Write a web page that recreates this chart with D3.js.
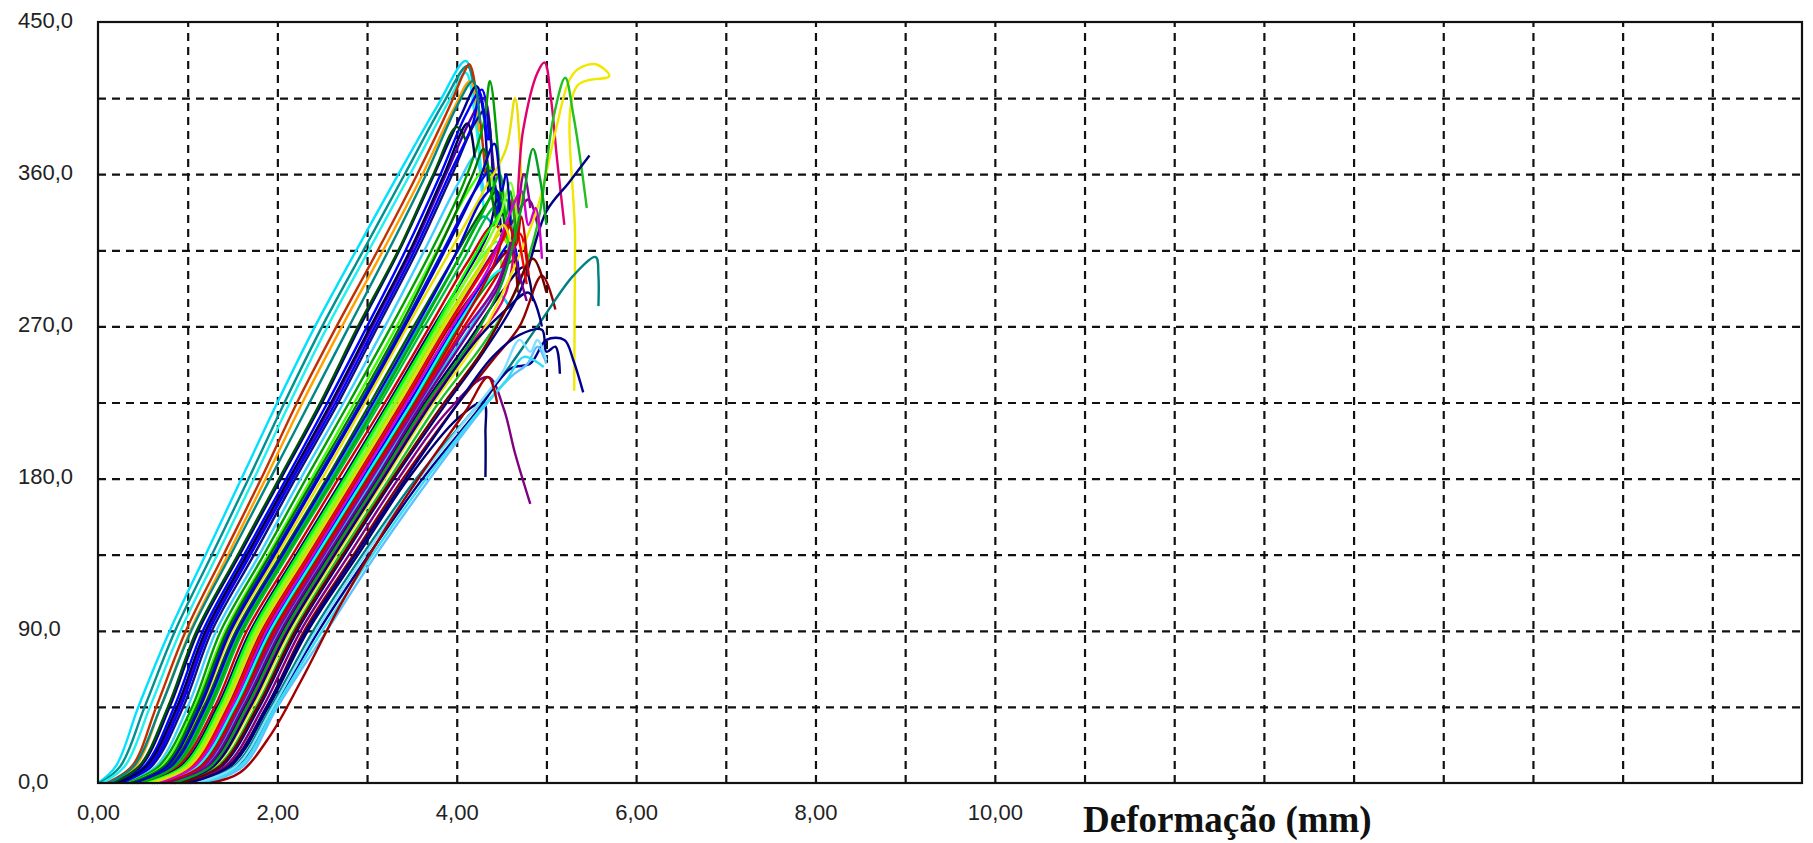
<!DOCTYPE html>
<html lang="pt">
<head>
  <meta charset="UTF-8">
  <title>Carga x Deformação</title>
  <script src="https://cdnjs.cloudflare.com/ajax/libs/d3/7.8.5/d3.min.js"></script>
  <style>
    html, body {
      margin: 0;
      padding: 0;
      background: #fff;
    }

    .grid line {
      stroke: #111;
      stroke-width: 2.2px;
      stroke-dasharray: 8 6;
    }

    .grid path { display: none; }

    .frame {
      fill: none;
      stroke: #111;
      stroke-width: 2.2px;
    }

    .curve {
      fill: none;
      stroke-width: 2.4px;
      stroke-linejoin: round;
    }

    .tick-label text {
      font-family: "Liberation Sans", Arial, sans-serif;
      font-size: 22px;
      fill: #222;
    }

    .x-title {
      font-family: "Liberation Serif", "Times New Roman", serif;
      font-weight: bold;
      font-size: 37px;
      fill: #111;
    }
  </style>
</head>
<body>
  <div id="chart"></div>

  <script>
    // ticks
    const xTickValues = [0, 2, 4, 6, 8, 10];
    const xTickLabels = ['0,00', '2,00', '4,00', '6,00', '8,00', '10,00'];
    const yTickValues = [0, 90, 180, 270, 360, 450];
    const yTickLabels = ['0,0', '90,0', '180,0', '270,0', '360,0', '450,0'];
    const xGrid = [1, 2, 3, 4, 5, 6, 7, 8, 9, 10, 11, 12, 13, 14, 15, 16, 17, 18];
    const yGrid = [45, 90, 135, 180, 225, 270, 315, 360, 405];

    // one array per specimen: [deformação mm, carga]
    const cp01 = [[0,0],[0.2,10],[0.45,45],[0.8,90],[1.2,135],[1.6,180],[2.0,225],[2.42,270],[2.88,315],[3.35,360],[3.78,400],[4.1,427],[4.2,405],[4.28,350]];
    const cp02 = [[0.02,0],[0.25,10],[0.52,45],[0.86,90],[1.27,135],[1.68,180],[2.08,225],[2.5,270],[2.96,315],[3.42,360],[3.85,402],[4.12,424],[4.22,400]];
    const cp03 = [[0.05,0],[0.3,10],[0.58,45],[0.92,90],[1.33,135],[1.74,180],[2.14,225],[2.56,270],[3.02,315],[3.48,360],[3.9,402],[4.1,420],[4.2,395],[4.3,340]];
    const cp04 = [[0.1,0],[0.38,10],[0.65,45],[0.98,90],[1.4,135],[1.82,180],[2.22,225],[2.66,270],[3.12,315],[3.56,360],[3.92,400],[4.08,420],[4.14,425],[4.24,400],[4.32,360]];
    const cp05 = [[0.14,0],[0.42,10],[0.7,45],[1.03,90],[1.45,135],[1.87,180],[2.28,225],[2.72,270],[3.18,315],[3.62,360],[3.96,398],[4.15,415],[4.25,385]];
    const cp06 = [[0.18,0],[0.48,10],[0.8,45],[1.12,90],[1.58,135],[2.04,180],[2.5,225],[2.92,270],[3.36,315],[3.75,360],[4.05,395],[4.22,412],[4.3,395],[4.35,350]];
    const cp07 = [[0.2,0],[0.52,10],[0.85,45],[1.17,90],[1.63,135],[2.1,180],[2.56,225],[3.0,270],[3.43,315],[3.82,360],[4.1,395],[4.28,410],[4.36,380]];
    const cp08 = [[0.24,0],[0.56,10],[0.9,45],[1.22,90],[1.68,135],[2.15,180],[2.62,225],[3.06,270],[3.5,315],[3.88,360],[4.15,392],[4.3,405],[4.4,370],[4.45,330]];
    const cp09 = [[0.28,0],[0.6,10],[0.95,45],[1.27,90],[1.74,135],[2.2,180],[2.68,225],[3.12,270],[3.56,315],[3.95,360],[4.2,390],[4.32,398],[4.4,360]];
    const cp10 = [[0.3,0],[0.65,10],[1.0,45],[1.32,90],[1.8,135],[2.26,180],[2.74,225],[3.2,270],[3.64,315],[4.02,355],[4.2,370],[4.3,350]];
    const cp11 = [[0.32,0],[0.68,10],[1.05,45],[1.37,90],[1.85,135],[2.32,180],[2.8,225],[3.27,270],[3.72,315],[4.08,355],[4.3,390],[4.37,415],[4.45,380],[4.5,340]];
    const cp12 = [[0.35,0],[0.72,10],[1.08,45],[1.42,90],[1.9,135],[2.38,180],[2.86,225],[3.33,270],[3.78,315],[4.15,352],[4.35,365],[4.42,340]];
    const cp13 = [[0.38,0],[0.75,10],[1.12,45],[1.46,90],[1.95,135],[2.44,180],[2.93,225],[3.4,270],[3.85,315],[4.2,350],[4.38,362],[4.46,330]];
    const cp14 = [[0.4,0],[0.78,10],[1.15,45],[1.5,90],[2.0,135],[2.5,180],[2.98,225],[3.45,270],[3.9,312],[4.3,350],[4.55,375],[4.65,405],[4.7,380],[4.72,340]];
    const cp15 = [[0.42,0],[0.8,10],[1.18,45],[1.54,90],[2.04,135],[2.55,180],[3.04,225],[3.52,270],[3.96,310],[4.3,340],[4.45,350],[4.55,320]];
    const cp16 = [[0.45,0],[0.84,10],[1.22,45],[1.58,90],[2.08,135],[2.6,180],[3.1,225],[3.58,270],[4.0,308],[4.3,335],[4.4,330]];
    const cp17 = [[0.48,0],[0.88,10],[1.26,45],[1.62,90],[2.12,135],[2.64,180],[3.15,225],[3.64,270],[4.08,310],[4.4,340],[4.55,345],[4.62,320]];
    const cp18 = [[0.5,0],[0.9,10],[1.3,45],[1.66,90],[2.17,135],[2.68,180],[3.2,225],[3.7,270],[4.12,308],[4.42,330],[4.6,315],[4.7,300]];
    const cp19 = [[0.52,0],[0.93,10],[1.33,45],[1.7,90],[2.21,135],[2.73,180],[3.24,225],[3.74,270],[4.15,305],[4.35,325],[4.45,345],[4.5,320]];
    const cp20 = [[0.55,0],[0.96,10],[1.36,45],[1.74,90],[2.25,135],[2.77,180],[3.28,225],[3.78,270],[4.2,305],[4.45,320],[4.5,300]];
    const cp21 = [[0.58,0],[1.0,10],[1.4,45],[1.78,90],[2.3,135],[2.82,180],[3.33,225],[3.83,270],[4.25,305],[4.5,325],[4.6,310]];
    const cp22 = [[0.6,0],[1.03,10],[1.44,45],[1.82,90],[2.34,135],[2.86,180],[3.38,225],[3.88,270],[4.3,305],[4.6,330],[4.8,345],[4.9,330]];
    const cp23 = [[0.63,0],[1.06,10],[1.47,45],[1.86,90],[2.38,135],[2.9,180],[3.42,225],[3.92,270],[4.34,300],[4.6,315],[4.68,290]];
    const cp24 = [[0.66,0],[1.1,10],[1.5,45],[1.9,90],[2.42,135],[2.95,180],[3.47,225],[3.98,270],[4.4,305],[4.62,320],[4.7,295]];
    const cp25 = [[0.7,0],[1.13,10],[1.54,45],[1.94,90],[2.46,135],[2.99,180],[3.52,225],[4.02,270],[4.42,300],[4.65,310]];
    const cp26 = [[0.74,0],[1.16,10],[1.57,45],[1.98,90],[2.5,135],[3.03,180],[3.56,225],[4.06,268],[4.45,300],[4.7,325],[4.8,300]];
    const cp27 = [[0.78,0],[1.2,10],[1.6,45],[2.02,90],[2.54,135],[3.08,180],[3.6,225],[4.1,265],[4.45,290],[4.6,280]];
    const cp28 = [[0.82,0],[1.24,10],[1.64,45],[2.06,90],[2.58,135],[3.12,180],[3.65,225],[4.14,262],[4.5,290],[4.75,305],[4.85,285]];
    const cp29 = [[0.85,0],[1.27,10],[1.68,45],[2.1,90],[2.62,135],[3.16,180],[3.7,225],[4.2,262],[4.55,290],[4.74,386],[4.9,420],[4.98,426],[5.05,405],[5.12,368],[5.2,330]];
    const cp30 = [[0.88,0],[1.3,10],[1.72,45],[2.14,90],[2.66,135],[3.2,180],[3.74,225],[4.24,262],[4.6,300],[4.9,340],[5.1,385],[5.25,415],[5.35,422],[5.55,425],[5.7,418],[5.34,412],[5.32,320],[5.31,232]];
    const cp31 = [[0.9,0],[1.34,10],[1.76,45],[2.18,90],[2.7,135],[3.25,180],[3.8,225],[4.3,260],[4.65,290],[4.9,330],[5.08,394],[5.21,417],[5.3,395],[5.38,368],[5.45,340]];
    const cp32 = [[0.94,0],[1.38,10],[1.8,45],[2.22,90],[2.75,135],[3.3,180],[3.85,222],[4.3,255],[4.7,290],[5.0,338],[5.25,355],[5.48,371]];
    const cp33 = [[0.97,0],[1.42,10],[1.84,45],[2.26,90],[2.8,135],[3.35,180],[3.9,220],[4.35,240],[4.52,222],[4.65,195],[4.82,165]];
    const cp34 = [[1.0,0],[1.45,10],[1.88,45],[2.3,90],[2.85,135],[3.4,180],[3.95,220],[4.4,250],[4.7,270],[4.95,300],[5.1,280]];
    const cp35 = [[1.03,0],[1.48,10],[1.9,45],[2.34,90],[2.9,135],[3.46,180],[4.0,215],[4.3,225],[4.32,207],[4.32,181]];
    const cp36 = [[1.06,0],[1.52,10],[1.93,45],[2.4,90],[2.95,135],[3.55,180],[4.1,215],[4.5,240],[4.9,270],[5.3,300],[5.55,311],[5.58,300],[5.58,282]];
    const cp37 = [[1.1,0],[1.56,10],[1.96,45],[2.46,90],[3.02,135],[3.62,180],[4.2,218],[4.6,245],[4.82,248],[5.0,262],[5.2,262],[5.3,250],[5.41,231]];
    const cp38 = [[1.22,0],[1.62,10],[2.0,45],[2.55,90],[3.1,135],[3.7,180],[4.3,222],[4.6,240],[4.79,248],[4.9,258],[5.0,248]];
    const cp39 = [[0.36,0],[0.74,10],[1.1,45],[1.44,90],[1.92,135],[2.41,180],[2.9,225],[3.37,270],[3.82,318],[4.18,360],[4.3,375],[4.38,350],[4.45,330]];
    const cp40 = [[0.44,0],[0.82,10],[1.2,45],[1.56,90],[2.06,135],[2.57,180],[3.07,225],[3.55,270],[3.98,312],[4.28,345],[4.42,352],[4.5,335]];
    const cp41 = [[0.54,0],[0.95,10],[1.35,45],[1.72,90],[2.23,135],[2.75,180],[3.26,225],[3.76,270],[4.18,310],[4.4,330],[4.52,338],[4.58,310]];
    const cp42 = [[0.62,0],[1.05,10],[1.46,45],[1.84,90],[2.36,135],[2.88,180],[3.4,225],[3.9,270],[4.32,305],[4.55,325],[4.62,345],[4.7,320],[4.78,295]];
    const cp43 = [[0.68,0],[1.11,10],[1.52,45],[1.92,90],[2.44,135],[2.97,180],[3.5,225],[4.0,270],[4.4,300],[4.55,305]];
    const cp44 = [[0.76,0],[1.18,10],[1.58,45],[2.0,90],[2.52,135],[3.05,180],[3.58,225],[4.08,267],[4.45,295],[4.65,330],[4.75,360],[4.82,340]];
    const cp45 = [[0.26,0],[0.58,10],[0.92,45],[1.24,90],[1.7,135],[2.17,180],[2.65,225],[3.09,270],[3.53,315],[3.92,360],[4.18,390],[4.26,408],[4.34,380]];
    const cp46 = [[0.16,0],[0.46,10],[0.78,45],[1.1,90],[1.56,135],[2.02,180],[2.48,225],[2.9,270],[3.35,315],[3.74,360],[4.0,388],[4.1,380]];
    const cp47 = [[0.86,0],[1.29,10],[1.7,45],[2.12,90],[2.64,135],[3.18,180],[3.72,225],[4.22,262],[4.55,280],[4.8,290],[4.95,270]];
    const cp48 = [[0.92,0],[1.36,10],[1.78,45],[2.2,90],[2.73,135],[3.28,180],[3.82,222],[4.28,255],[4.6,285],[4.85,310],[5.0,290]];
    const cp49 = [[0.46,0],[0.86,10],[1.24,45],[1.6,90],[2.1,135],[2.62,180],[3.12,225],[3.6,270],[4.04,312],[4.36,345],[4.48,360],[4.55,335],[4.6,350],[4.66,320]];
    const cp50 = [[0.72,0],[1.15,10],[1.56,45],[1.96,90],[2.48,135],[3.01,180],[3.54,225],[4.04,270],[4.4,305],[4.58,330],[4.66,318],[4.72,335],[4.8,300]];
    const cp51 = [[0.8,0],[1.22,10],[1.62,45],[2.04,90],[2.56,135],[3.1,180],[3.62,225],[4.12,265],[4.45,292],[4.62,315],[4.7,300],[4.78,285]];
    const cp52 = [[1.14,0],[1.58,10],[1.98,45],[2.5,90],[3.06,135],[3.66,180],[4.25,220],[4.55,238],[4.75,252],[4.97,246]];
    const cp53 = [[1.08,0],[1.54,10],[1.95,45],[2.43,90],[2.98,135],[3.58,180],[4.15,218],[4.5,242],[4.7,262],[4.82,255],[4.9,262],[5.0,250]];
    const cp54 = [[1.0,0],[1.46,10],[1.88,45],[2.32,90],[2.87,135],[3.43,180],[3.98,222],[4.4,252],[4.7,265],[4.95,268],[5.0,255],[5.1,258],[5.15,242]];
    const cp55 = [[1.25,0],[1.58,6],[1.92,28],[2.26,60],[2.7,105],[3.2,150],[3.7,190],[4.1,220],[4.35,240],[4.45,225]];
    const cp56 = [[0.57,0],[0.98,10],[1.38,45],[1.76,90],[2.27,135],[2.8,180],[3.31,225],[3.8,270],[4.22,308],[4.48,335],[4.6,355],[4.68,330]];
    const cp57 = [[0.4,0],[0.77,10],[1.14,45],[1.48,90],[1.97,135],[2.46,180],[2.95,225],[3.42,270],[3.87,315],[4.24,355],[4.42,378],[4.5,350],[4.55,360],[4.6,330]];
    const cp58 = [[0.66,0],[1.08,10],[1.49,45],[1.88,90],[2.4,135],[2.92,180],[3.44,225],[3.95,270],[4.36,305],[4.58,335],[4.72,350],[4.8,330],[4.88,340],[4.95,310]];
    const cp59 = [[0.12,0],[0.4,10],[0.7,45],[1.04,90],[1.48,135],[1.92,180],[2.36,225],[2.8,270],[3.24,315],[3.66,360],[4.0,400],[4.18,415],[4.26,390]];
    const cp60 = [[0.6,0],[1.02,10],[1.42,45],[1.8,90],[2.32,135],[2.84,180],[3.36,225],[3.86,270],[4.28,306],[4.52,330],[4.6,320]];
    const cp61 = [[0.22,0],[0.54,10],[0.88,45],[1.2,90],[1.66,135],[2.13,180],[2.6,225],[3.04,270],[3.48,315],[3.86,360],[4.12,390],[4.2,370]];
    const cp62 = [[0.84,0],[1.26,10],[1.66,45],[2.08,90],[2.6,135],[3.14,180],[3.67,225],[4.17,262],[4.5,295],[4.72,340],[4.85,375],[4.92,360],[5.0,330]];

    const curves = [cp01, cp02, cp03, cp04, cp05, cp06, cp07, cp08, cp09, cp10, cp11, cp12,
                    cp13, cp14, cp15, cp16, cp17, cp18, cp19, cp20, cp21, cp22, cp23, cp24,
                    cp25, cp26, cp27, cp28, cp29, cp30, cp31, cp32, cp33, cp34, cp35, cp36,
                    cp37, cp38, cp39, cp40, cp41, cp42, cp43, cp44, cp45, cp46, cp47, cp48,
                    cp49, cp50, cp51, cp52, cp53, cp54, cp55, cp56, cp57, cp58, cp59, cp60,
                    cp61, cp62];

    const palette = ['#00e0ff', '#009090', '#20f0f0', '#c03000', '#ffa000', '#000090', '#0000ff', '#5000b0',
                     '#101080', '#40d0ff', '#00a000', '#40ff00', '#0010e0', '#e8e000', '#006000', '#00b0b0',
                     '#00c040', '#d00000', '#000080', '#60ff40', '#c0e000', '#800080', '#800000', '#0000ff',
                     '#009000', '#e00000', '#00d8ff', '#000060', '#e00070', '#f0e800', '#20c020', '#000080',
                     '#800080', '#900000', '#000070', '#008080', '#000090', '#60c0ff', '#007000', '#0000d0',
                     '#00ff00', '#ff0000', '#00ffff', '#9000a0', '#0000ff', '#005000', '#000080', '#700000',
                     '#00b000', '#cc0000', '#700090', '#30e0f0', '#80e0ff', '#000080', '#a00000', '#80ff20',
                     '#0000c0', '#d000d0', '#008888', '#e0e000', '#000050', '#00a020'];

    const width = 1813;
    const height = 843;
    const margin = {top: 22, right: 11, bottom: 60, left: 98};
    const w = width - margin.left - margin.right;
    const h = height - margin.top - margin.bottom;

    const svg = d3.select('#chart').append('svg')
                  .attr('width', width).attr('height', height)
                  .append('g')
                  .attr('transform', `translate(${margin.left},${margin.top})`);

    const x = d3.scaleLinear().domain([0, 19]).range([0, w]);
    const y = d3.scaleLinear().domain([0, 450]).range([h, 0]);

    // dashed grid
    svg.append('g').attr('class', 'grid')
      .attr('transform', `translate(0,${h})`)
      .call(d3.axisBottom(x).tickValues(xGrid).tickSize(-h).tickFormat(''));

    svg.append('g').attr('class', 'grid')
      .call(d3.axisLeft(y).tickValues(yGrid).tickSize(-w).tickFormat(''));

    // curves
    const line = d3.line().x(d => x(d[0])).y(d => y(d[1])).curve(d3.curveCatmullRom.alpha(0.5));

    svg.selectAll('.curve').data(curves).enter().append('path')
      .attr('class', 'curve')
      .attr('d', line)
      .style('stroke', (d, i) => palette[i % palette.length]);

    svg.append('rect').attr('class', 'frame')
      .attr('x', 0).attr('y', 0).attr('width', w).attr('height', h);

    // tick labels
    const yAxis = svg.append('g').attr('class', 'tick-label')
      .call(d3.axisLeft(y).tickValues(yTickValues).tickSize(0).tickFormat((d, i) => yTickLabels[i]));
    yAxis.select('.domain').remove();
    yAxis.selectAll('text')
      .attr('text-anchor', 'start')
      .attr('x', 18 - margin.left)
      .attr('dy', null)
      .attr('y', 5);

    const xAxis = svg.append('g').attr('class', 'tick-label')
      .attr('transform', `translate(0,${h})`)
      .call(d3.axisBottom(x).tickValues(xTickValues).tickSize(0).tickFormat((d, i) => xTickLabels[i]));
    xAxis.select('.domain').remove();
    xAxis.selectAll('text').attr('dy', null).attr('y', 37);

    svg.append('text').attr('class', 'x-title')
      .attr('x', 1083 - margin.left)
      .attr('y', 832 - margin.top)
      .text('Deformação (mm)');
  </script>
</body>
</html>
